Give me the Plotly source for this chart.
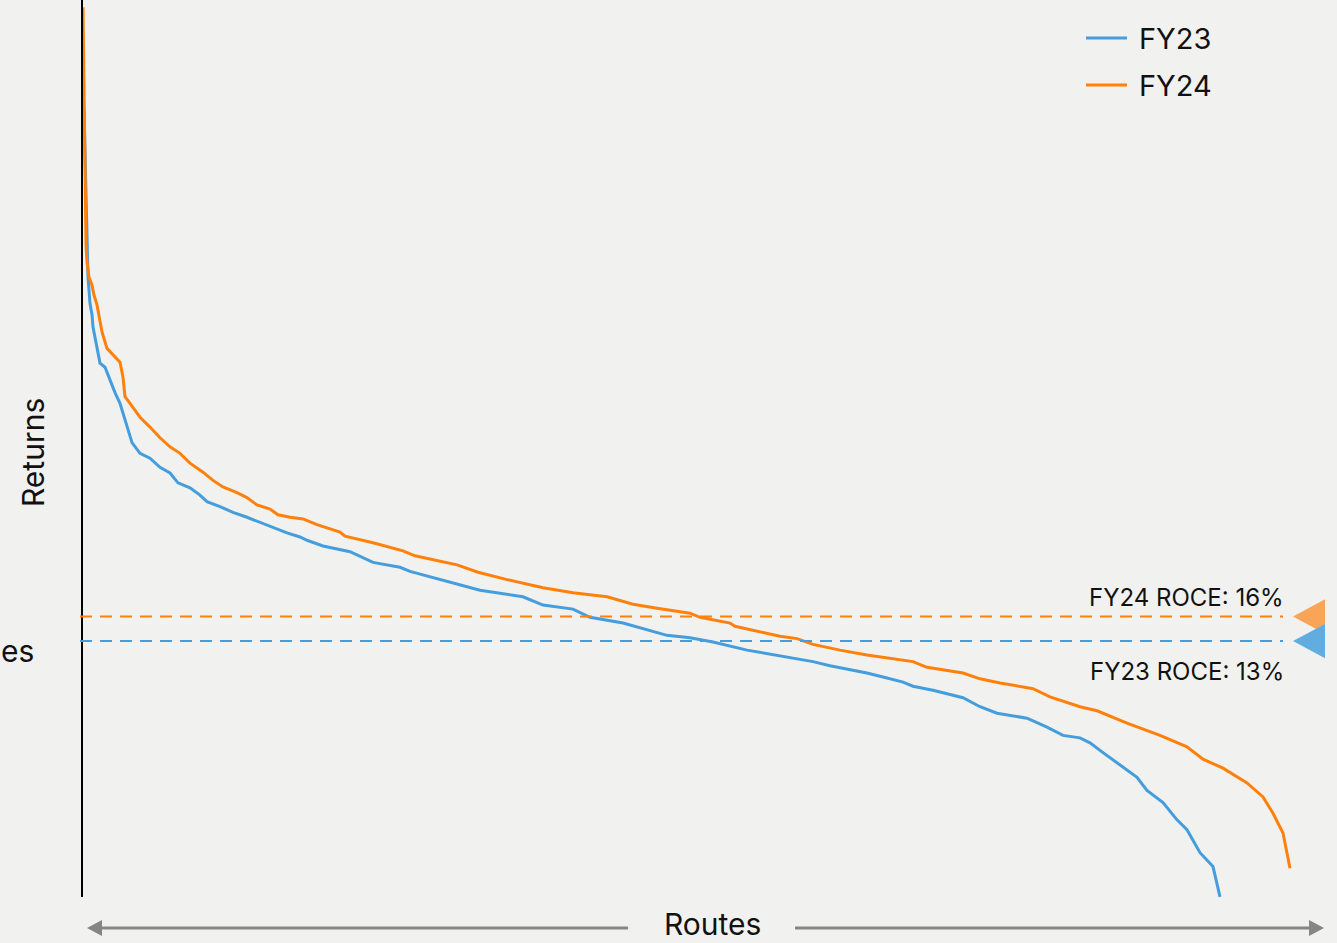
import plotly.graph_objects as go

# Route rank (sorted by return, highest first) and return on capital employed (%)
routes_fy24 = [0, 1, 2, 3, 4, 6, 9, 11, 14, 17, 19, 24, 30, 37, 40, 42, 47, 57, 67, 77, 87, 97,
               107, 120, 130, 140, 154, 164, 174, 187, 195, 207, 220, 234, 257, 262, 290, 320,
               332, 374, 395, 424, 460, 490, 524, 550, 574, 607, 617, 647, 652, 680, 697, 714,
               730, 757, 784, 830, 844, 880, 897, 917, 930, 950, 967, 984, 997, 1014, 1044,
               1077, 1104, 1120, 1140, 1164, 1180, 1190, 1200, 1207]
roce_fy24 = [90.3, 81.4, 66.8, 61.3, 59.2, 57.4, 56.4, 55.2, 54.0, 51.9, 50.7, 48.7, 47.9, 47.0,
             45.2, 42.8, 42.0, 40.3, 39.1, 37.8, 36.7, 35.9, 34.7, 33.6, 32.6, 31.8, 31.1, 30.5,
             29.6, 29.1, 28.4, 28.1, 27.9, 27.2, 26.3, 25.8, 25.0, 24.0, 23.4, 22.3, 21.4, 20.5,
             19.5, 18.9, 18.4, 17.5, 17.0, 16.4, 15.9, 15.2, 14.8, 14.1, 13.6, 13.3, 12.6, 11.9,
             11.3, 10.5, 9.8, 9.1, 8.4, 7.9, 7.6, 7.2, 6.2, 5.5, 5.0, 4.5, 3.0, 1.5, 0.1, -1.4,
             -2.5, -4.3, -6.0, -8.0, -10.4, -14.7]

routes_fy23 = [1, 3, 4, 5, 7, 9, 10, 14, 17, 22, 27, 32, 37, 40, 45, 49, 57, 67, 77, 87, 95, 107,
               117, 124, 137, 150, 164, 177, 190, 204, 217, 224, 240, 267, 290, 317, 327, 354,
               380, 397, 440, 460, 490, 507, 540, 554, 584, 607, 630, 664, 684, 704, 730, 747,
               784, 804, 820, 830, 850, 880, 897, 914, 944, 964, 980, 997, 1007, 1020, 1040,
               1054, 1064, 1080, 1094, 1104, 1117, 1130, 1137]
roce_fy23 = [77.8, 69.2, 63.1, 57.4, 54.2, 52.8, 51.3, 48.9, 46.9, 46.4, 44.8, 43.3, 42.0, 40.8,
             39.1, 37.2, 35.9, 35.3, 34.2, 33.5, 32.3, 31.7, 30.8, 30.0, 29.4, 28.7, 28.1, 27.5,
             26.9, 26.2, 25.7, 25.3, 24.6, 23.9, 22.6, 22.0, 21.5, 20.6, 19.8, 19.2, 18.4, 17.4,
             16.9, 15.9, 15.2, 14.7, 13.7, 13.4, 12.9, 11.9, 11.5, 11.1, 10.5, 10.0, 9.1, 8.5,
             8.0, 7.5, 7.0, 6.1, 5.0, 4.2, 3.6, 2.5, 1.5, 1.2, 0.6, -0.6, -2.4, -3.6, -5.2, -6.7,
             -8.8, -10.0, -12.8, -14.5, -18.2]

years = ["FY23", "FY24"]
group_roce = [13, 16]

BLUE = "#449ddc"
ORANGE = "#ff800a"
TRI_BLUE = "#62ade0"
TRI_ORANGE = "#f9a557"
BG = "#f1f1f0"
GREY = "#858585"
FONT = "Inter"
INK = "#111111"

fig = go.Figure()
fig.add_trace(go.Scatter(x=routes_fy23, y=roce_fy23, mode="lines", name="FY23",
                         line=dict(color=BLUE, width=3)))
fig.add_trace(go.Scatter(x=routes_fy24, y=roce_fy24, mode="lines", name="FY24",
                         line=dict(color=ORANGE, width=3)))

W, H = 1254, 897  # plot area in px


def px(xp):
    return (xp - 83) / W


def py(yp):
    return 1 - yp / H


shapes = []
annotations = []

# group ROCE reference lines, markers and labels
for yr, val, col, above in [("FY24", group_roce[1], ORANGE, True),
                             ("FY23", group_roce[0], BLUE, False)]:
    shapes.append(dict(type="line", xref="paper", yref="y", x0=px(80), x1=px(1283), y0=val, y1=val,
                       line=dict(color=col, width=2, dash="12px,8px")))
    annotations.append(dict(xref="paper", yref="y", x=px(1283), y=val, xanchor="right",
                            yanchor="bottom" if above else "top", xshift=3,
                            yshift=3 if above else -14, showarrow=False,
                            text=f"{yr} ROCE: {val}%",
                            font=dict(family=FONT, size=24, color=INK)))
for val, tcol in [(group_roce[1], TRI_ORANGE), (group_roce[0], TRI_BLUE)]:
    x_tip, x_base, h = px(1293), px(1325), 2.1
    shapes.append(dict(type="path", xref="paper", yref="y",
                       path=f"M{x_tip},{val} L{x_base},{val + h} L{x_base},{val - h} Z",
                       fillcolor=tcol, line=dict(width=0)))

# legend
for i, (name, col) in enumerate([("FY23", BLUE), ("FY24", ORANGE)]):
    yl = 38 + 47 * i
    shapes.append(dict(type="line", xref="paper", yref="paper", x0=px(1086), x1=px(1127),
                       y0=py(yl), y1=py(yl), line=dict(color=col, width=3)))
    annotations.append(dict(xref="paper", yref="paper", x=px(1137), y=py(yl), xanchor="left",
                            yanchor="middle", showarrow=False, text=name,
                            font=dict(family=FONT, size=29, color=INK)))

# double-headed "Routes" axis arrow
ya = py(928)
for x0, x1 in [(101, 628), (795, 1309)]:
    shapes.append(dict(type="line", xref="paper", yref="paper", x0=px(x0), x1=px(x1),
                       y0=ya, y1=ya, line=dict(color=GREY, width=3)))
for tip, base in [(87, 102), (1324, 1309)]:
    shapes.append(dict(type="path", xref="paper", yref="paper",
                       path=f"M{px(tip)},{ya} L{px(base)},{py(920)} L{px(base)},{py(936)} Z",
                       fillcolor=GREY, line=dict(width=0)))

annotations.append(dict(xref="paper", yref="paper", x=px(712), y=py(943), xanchor="center",
                        yanchor="bottom", showarrow=False, text="Routes", borderpad=0,
                        font=dict(family=FONT, size=30, color=INK)))
annotations.append(dict(xref="paper", yref="paper", x=px(33), y=py(453), xanchor="center",
                        yanchor="middle", showarrow=False, text="Returns", textangle=-90,
                        font=dict(family=FONT, size=30, color=INK)))
annotations.append(dict(xref="paper", yref="paper", x=px(0), y=py(651), xanchor="left",
                        yanchor="middle", showarrow=False, text="es", borderpad=0,
                        font=dict(family=FONT, size=30, color=INK)))

fig.update_layout(
    width=1337, height=943,
    margin=dict(l=83, r=0, t=0, b=46),
    paper_bgcolor=BG, plot_bgcolor=BG,
    showlegend=False,
    xaxis=dict(visible=False, range=[0, W], fixedrange=True),
    yaxis=dict(range=[16 - 280.5 / 8.2, 16 + 616.5 / 8.2], showline=True, linecolor="black",
               linewidth=2, showticklabels=False, ticks="", showgrid=False, zeroline=False),
    shapes=shapes,
    annotations=annotations,
)

fig.write_html("out.html")
